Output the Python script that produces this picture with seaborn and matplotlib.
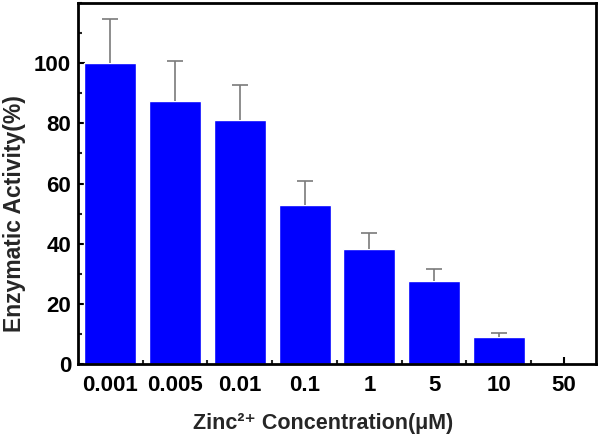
import numpy as np
import matplotlib
matplotlib.use('Agg')
import matplotlib.pyplot as plt
import seaborn as sns
from matplotlib.ticker import MultipleLocator, FixedLocator

# Values
concentrations = ['0.001', '0.005', '0.01', '0.1', '1', '5', '10', '50']
activity = [100.0, 87.5, 81.0, 52.8, 38.1, 27.6, 9.1, 0.0]
activity_err = [14.6, 13.1, 11.9, 8.0, 5.6, 4.0, 1.1, 0.0]

sns.set_style('ticks')
plt.rcParams['font.family'] = ['Liberation Sans', 'DejaVu Sans']
plt.rcParams['font.weight'] = 'bold'

fig = plt.figure(figsize=(6, 4.38), dpi=100)
ax = fig.add_axes([0.13, 0.169, 0.8633, 0.824])

sns.barplot(x=concentrations, y=activity, color='#0000FF', saturation=1,
            width=0.8, ax=ax, zorder=2)

# upper-only error bars
xpos = np.arange(len(concentrations))
errs = np.array(activity_err)
mask = errs > 0
_, caps, _ = ax.errorbar(xpos[mask], np.array(activity)[mask],
                         yerr=[np.zeros(mask.sum()), errs[mask]],
                         fmt='none', ecolor='#7a7a7a', elinewidth=1.2,
                         capsize=6, capthick=1.2, zorder=3)
caps[0].set_visible(False)  # hide the lower caps

ax.set_xlim(-0.5, 7.5)
ax.set_ylim(0, 120)
ax.set_yticks([0, 20, 40, 60, 80, 100])
ax.yaxis.set_minor_locator(MultipleLocator(10))
ax.xaxis.set_minor_locator(FixedLocator(np.arange(0.5, 7, 1)))
ax.set_axisbelow(True)

ax.tick_params(axis='both', which='major', direction='in', length=5,
               width=1.5, labelsize=16, colors='black')
ax.tick_params(axis='y', which='major', pad=5)
ax.tick_params(axis='x', which='major', pad=8)
ax.tick_params(axis='both', which='minor', direction='in', length=3,
               width=1.5)
for lab in ax.get_xticklabels() + ax.get_yticklabels():
    lab.set_fontweight('bold')

for side in ['top', 'right', 'bottom', 'left']:
    ax.spines[side].set_visible(True)
    ax.spines[side].set_linewidth(2)
    ax.spines[side].set_color('black')

ax.set_xlabel('Zinc\u00b2\u207a Concentration(\u03bcM)',
              fontsize=15.5, fontweight='bold')
ax.set_ylabel('Enzymatic Activity(%)', fontsize=16.5, fontweight='bold')
ax.xaxis.set_label_coords(0.473, -0.136)
ax.yaxis.set_label_coords(-0.100, 0.416)

fig.savefig('out.png', dpi=100)
